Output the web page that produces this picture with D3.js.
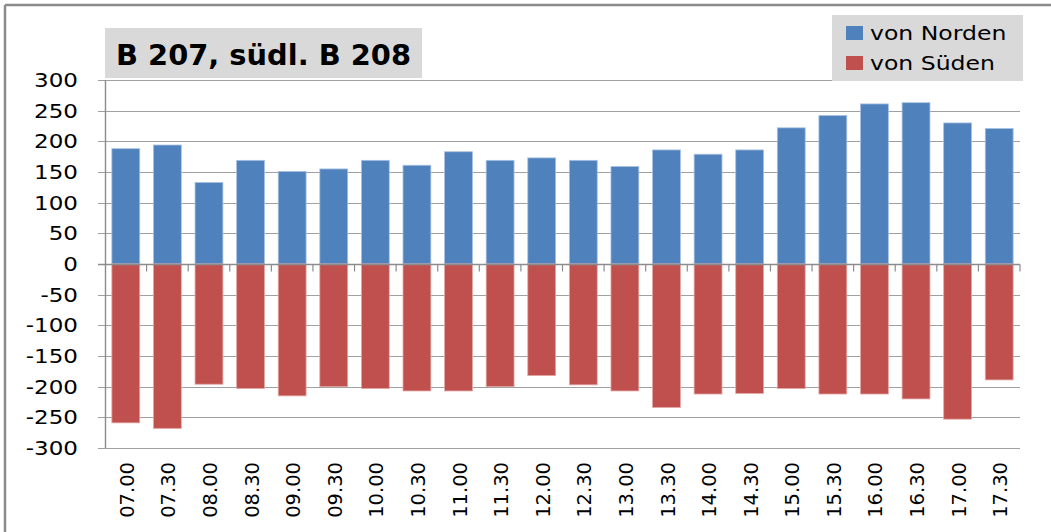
<!DOCTYPE html>
<html>
<head>
<meta charset="utf-8">
<script src="https://cdn.jsdelivr.net/npm/d3@7"></script>
<style>
  html, body { margin: 0; padding: 0; background: #fff; }
  svg { display: block; }
  text { font-family: "DejaVu Sans", Verdana, sans-serif; fill: #000; }
</style>
</head>
<body>
<svg id="chart" width="1051" height="532"></svg>
<script>
const categories = ["07.00","07.30","08.00","08.30","09.00","09.30","10.00","10.30","11.00","11.30","12.00","12.30","13.00","13.30","14.00","14.30","15.00","15.30","16.00","16.30","17.00","17.30"];
const vonNorden = [188,194,133,169,151,155,169,161,183,169,173,169,159,186,179,186,222,242,261,263,230,221];
const vonSueden = [-259,-268,-196,-203,-215,-200,-203,-207,-207,-200,-182,-197,-207,-234,-212,-211,-203,-212,-212,-220,-253,-189];
const yTicks = [300,250,200,150,100,50,0,-50,-100,-150,-200,-250,-300];
const seriesNames = ["von Norden","von Süden"];
const seriesColors = ["#4f81bd","#c0504d"];
const seriesStrokes = ["#a9c1e0","#e2a8a6"];
const titleText = "B 207, südl. B 208";

const svg = d3.select("#chart");
const pLeft = 105, pRight = 1020, pTop = 80, pBottom = 448;

const x = d3.scaleBand().domain(categories).range([pLeft, pRight]).paddingInner(0.33).paddingOuter(0.165);
const xb = d3.scaleBand().domain(categories).range([pLeft, pRight]).padding(0);
const y = d3.scaleLinear().domain([-300, 300]).range([pBottom, pTop]);

// outer frame
svg.append("line").attr("x1", 5).attr("x2", 5).attr("y1", 5).attr("y2", 532).attr("stroke", "#8c8c8c").attr("stroke-width", 2.5);
svg.append("line").attr("x1", 5).attr("x2", 1051).attr("y1", 5).attr("y2", 5).attr("stroke", "#8c8c8c").attr("stroke-width", 2.5);

// gridlines
svg.append("g").selectAll("line").data(yTicks.filter(d => d !== 0)).join("line")
  .attr("x1", pLeft - 7).attr("x2", pRight)
  .attr("y1", d => Math.round(y(d)) + 0.5).attr("y2", d => Math.round(y(d)) + 0.5)
  .attr("stroke", "#a0a0a0").attr("stroke-width", 1.2);

// bars
const bars = svg.append("g");
bars.selectAll("rect.n").data(vonNorden).join("rect").attr("class", "n")
  .attr("x", (d, i) => x(categories[i])).attr("width", x.bandwidth())
  .attr("y", d => y(d)).attr("height", d => y(0) - y(d))
  .attr("fill", seriesColors[0]).attr("stroke", seriesStrokes[0]).attr("stroke-width", 0.8);
bars.selectAll("rect.s").data(vonSueden).join("rect").attr("class", "s")
  .attr("x", (d, i) => x(categories[i])).attr("width", x.bandwidth())
  .attr("y", y(0)).attr("height", d => y(d) - y(0))
  .attr("fill", seriesColors[1]).attr("stroke", seriesStrokes[1]).attr("stroke-width", 0.8);

// zero axis line with category ticks
const y0 = Math.round(y(0)) + 0.5;
svg.append("line").attr("x1", pLeft - 7).attr("x2", pRight).attr("y1", y0).attr("y2", y0)
  .attr("stroke", "#8c8c8c").attr("stroke-width", 1.4);
svg.append("g").selectAll("line").data(categories.slice(1).concat(["__end"])).join("line")
  .attr("x1", (d, i) => i < categories.length - 1 ? xb(d) : pRight)
  .attr("x2", (d, i) => i < categories.length - 1 ? xb(d) : pRight)
  .attr("y1", y0).attr("y2", y0 + 7)
  .attr("stroke", "#8c8c8c").attr("stroke-width", 1.2);

// y axis line
svg.append("line").attr("x1", pLeft + 0.5).attr("x2", pLeft + 0.5).attr("y1", pTop).attr("y2", pBottom)
  .attr("stroke", "#8c8c8c").attr("stroke-width", 1.4);

// y tick labels
svg.append("g").selectAll("g").data(yTicks).join("g")
  .attr("transform", d => `translate(78,${y(d)}) scale(1.18,1)`)
  .append("text").attr("text-anchor", "end").attr("dy", "0.36em")
  .style("font-size", "19.5px").text(d => d);

// x tick labels (rotated)
svg.append("g").selectAll("text").data(categories).join("text")
  .attr("transform", d => `translate(${x(d) + x.bandwidth() / 2 + 1},462) rotate(-90)`)
  .attr("text-anchor", "end").attr("dy", "0.36em")
  .style("font-size", "19.5px").text(d => d);

// title box
svg.append("rect").attr("x", 105).attr("y", 28).attr("width", 317).attr("height", 50).attr("fill", "#d9d9d9");
svg.append("text").attr("x", 116).attr("y", 65).style("font-size", "29px").style("font-weight", "bold")
  .attr("textLength", 295).attr("lengthAdjust", "spacingAndGlyphs").text(titleText);

// legend
const lg = svg.append("g");
lg.append("rect").attr("x", 832).attr("y", 15).attr("width", 191).attr("height", 66).attr("fill", "#d9d9d9");
const rows = lg.selectAll("g").data(seriesNames).join("g")
  .attr("transform", (d, i) => `translate(846,${33 + i * 30})`);
rows.append("rect").attr("x", 0).attr("y", -7).attr("width", 17).attr("height", 14)
  .attr("fill", (d, i) => seriesColors[i]);
rows.append("g").attr("transform", "translate(24,0) scale(1.24,1)")
  .append("text").attr("dy", "0.36em").style("font-size", "19px").text(d => d);
</script>
</body>
</html>
